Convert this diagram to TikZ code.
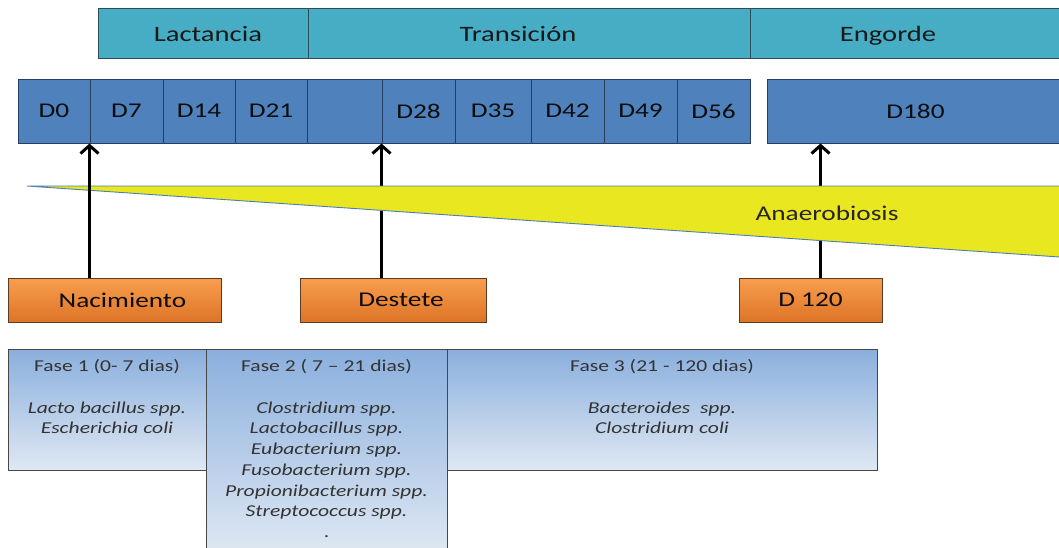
\documentclass[tikz,border=0pt]{standalone}
\usepackage{fontspec}
\setmainfont{Carlito}[FakeStretch=1.3]
\usetikzlibrary{arrows.meta}
\definecolor{tealfill}{HTML}{46ADC4}
\definecolor{tealline}{HTML}{2C4E58}
\definecolor{dayfill}{HTML}{4F81BD}
\definecolor{dayline}{HTML}{243F60}
\definecolor{orgtop}{HTML}{F99E4E}
\definecolor{orgbot}{HTML}{DD7428}
\definecolor{orgline}{HTML}{5C3D22}
\definecolor{phtop}{HTML}{8AAFDD}
\definecolor{phbot}{HTML}{DFE8F3}
\definecolor{phline}{HTML}{474747}
\definecolor{wedgefill}{HTML}{E9E71F}
\definecolor{wedgeline}{HTML}{4A7EBB}
\definecolor{txtgray}{HTML}{333333}

\begin{document}
\begin{tikzpicture}[x=1pt,y=-1pt]
\tikzstyle{every node}+=[inner sep=0pt]
\tikzstyle{stage}=[draw=tealline, fill=tealfill, line width=1pt, minimum height=50pt]
\tikzstyle{stagetext}=[anchor=base, text=black!90, font=\fontsize{22}{26}\selectfont]
\tikzstyle{day}=[draw=dayline, fill=dayfill, line width=1pt, minimum height=64pt, text=black!95, font=\fontsize{21}{25}\selectfont]
\tikzstyle{event}=[draw=orgline, top color=orgtop, bottom color=orgbot, line width=1pt, minimum height=44pt, text=black!95, font=\fontsize{21}{25}\selectfont]
\tikzstyle{phase}=[draw=phline, top color=phtop, bottom color=phbot, line width=1pt]
\tikzstyle{phasetext}=[anchor=north, align=center, text=txtgray, font=\fontsize{16.6}{20.7}\selectfont]
\tikzstyle{arr}=[line width=3pt, -{Straight Barb[length=8pt,width=18pt,line width=3pt]}]
\clip (0,0) rectangle (1059,547);
\useasboundingbox (0,0) rectangle (1059,547);
% stages
\node[stage, minimum width=210pt] (lact) at (203,33) {};
\node[stage, minimum width=442pt] (trans) at (529,33) {};
\node[stage, minimum width=314pt] (engo) at (907,33) {};
\node[stagetext] (lacttxt) at (208,41) {Lactancia};
\node[stagetext] (transtxt) at (518,41) {Transición};
\node[stagetext] (engotxt) at (888,41) {Engorde};
% days
\node[day, minimum width=72pt] (d0) at (54,111) {D0};
\node[day, minimum width=73pt] (d7) at (126.5,111) {D7};
\node[day, minimum width=72pt] (d14) at (199,111) {D14};
\node[day, minimum width=72pt] (d21) at (271,111) {D21};
\node[day, minimum width=75pt] (dx) at (344.5,111) {};
\node[day, minimum width=73pt] (d28) at (418.5,111) {D28};
\node[day, minimum width=76pt] (d35) at (493,111) {D35};
\node[day, minimum width=73pt] (d42) at (567.5,111) {D42};
\node[day, minimum width=73pt] (d49) at (640.5,111) {D49};
\node[day, minimum width=73pt] (d56) at (713.5,111) {D56};
\node[day, minimum width=297pt] (d180) at (915.5,111) {D180};
% events
\node[event, minimum width=213pt] (nac) at (114.5,300) {Nacimiento\hspace*{-16pt}};
\node[event, minimum width=186pt] (dest) at (393,300) {Destete\hspace*{-16pt}};
\node[event, minimum width=143pt] (d120) at (810.5,300) {D 120};
\draw[arr] (dest.north -| d28.south west) -- (d28.south west);
\draw[arr] ([xshift=10pt]d120.north) -- ([xshift=10pt]d120.north |- d180.south);
% anaerobiosis
\filldraw[fill=wedgefill, draw=wedgeline, line width=0.9pt] (27,186) -- (1064,186) -- (1064,257.3) -- cycle;
\node[text=black!85, font=\fontsize{21}{25}\selectfont] (anae) at (827,213) {Anaerobiosis};
\draw[arr] (nac.north -| d7.south west) -- (d7.south west);
% phases
\node[phase, minimum width=198pt, minimum height=121pt] (fase1) at (107,409.5) {};
\node[phase, minimum width=430pt, minimum height=121pt] (fase3) at (662,409.5) {};
\node[phase, minimum width=241pt, minimum height=203pt] (fase2) at (326.5,450.5) {};
\node[phasetext] (f1txt) at ([yshift=-11pt]fase1.north) {Fase 1 (0- 7 dias)\\[20.7pt]
  \textit{Lacto bacillus spp.}\\ \textit{Escherichia coli}};
\node[phasetext] (f2txt) at ([yshift=-11pt]fase2.north) {Fase 2 ( 7 -- 21 dias)\\[20.7pt]
  \textit{Clostridium spp.}\\ \textit{Lactobacillus spp.}\\ \textit{Eubacterium spp.}\\
  \textit{Fusobacterium spp.}\\ \textit{Propionibacterium spp.}\\ \textit{Streptococcus spp.}\\ .};
\node[phasetext] (f3txt) at ([yshift=-11pt]fase3.north) {Fase 3 (21 - 120 dias)\\[20.7pt]
  \textit{Bacteroides\ \ spp.}\\ \textit{Clostridium coli}};
\end{tikzpicture}
\end{document}
